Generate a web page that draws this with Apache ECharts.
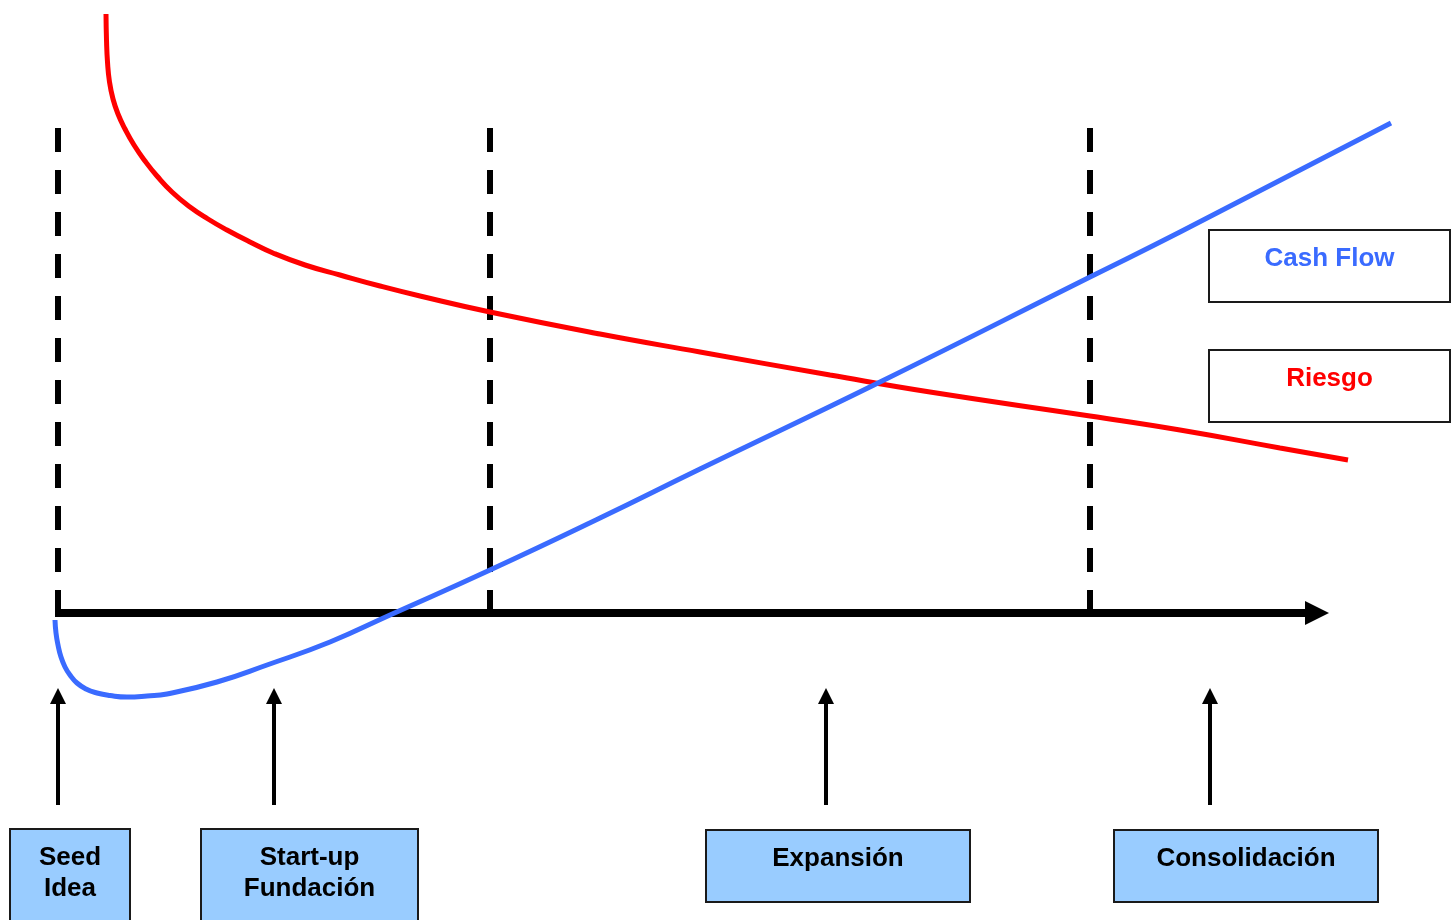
<!DOCTYPE html>
<html>
<head>
<meta charset="utf-8">
<script src="https://cdn.jsdelivr.net/npm/echarts@6/dist/echarts.min.js"></script>
<style>
html,body{margin:0;padding:0;background:#fff;}
#chart{width:1455px;height:920px;}
</style>
</head>
<body>
<div id="chart"></div>
<script>
// ---- Data (time on x, value on y; 0 = horizontal axis, seed line at x=0) ----
const riesgoX = [48, 48.5, 49.5, 51.5, 55, 60, 67, 76, 87, 99, 114, 132, 150, 169, 192, 215, 247, 282, 322, 362, 432, 542, 642, 772, 872, 1032, 1122, 1222, 1290];
const riesgoY = [599, 573, 551, 531, 514, 499, 484, 468, 452, 437, 421, 406, 394, 383, 371, 360, 348, 338, 327, 317, 301, 279, 261, 238, 221, 197, 183, 165, 153];

const cashX = [-3, -2, 0, 3, 7, 12, 19, 28, 39, 52, 69, 89, 109, 159, 209, 272, 332, 432, 542, 642, 820, 1032, 1122, 1333];
const cashY = [-7, -20, -32, -44, -54, -62, -70, -76, -80, -82.5, -84, -83, -81, -69, -52, -29, -2, 43, 95, 144, 230, 336, 381, 490];

const phaseBoundaries = [0, 432, 1032];          // dashed vertical lines
const phaseTop = 485;
const axisEnd = 1259;

const stageNames = ['Seed\nIdea', 'Start-up\nFundación', 'Expansión', 'Consolidación'];
const stageArrowX = [0, 216, 768, 1152];
const arrowBottom = -192, arrowHead = -83;

const legendNames = ['Cash Flow', 'Riesgo'];

// ---- Layout boxes (in axis units) ----
const stageBoxes = [[-48, -216, 72, -312], [143, -216, 360, -312], [648, -217, 912, -289], [1056, -217, 1320, -289]];
const legendBoxes = [[1151, 383, 1392, 311], [1151, 263, 1392, 191]];

const BLUE = '#3a6bff', RED = '#ff0000';
const FONT = 'bold 26px "Liberation Sans", Arial, sans-serif';

function zip(xs, ys) { return xs.map((x, i) => [x, ys[i]]); }

const chart = echarts.init(document.getElementById('chart'), null, {renderer: 'canvas'});

const series = [];

phaseBoundaries.forEach(x => {
  series.push({
    type: 'line', data: [[x, phaseTop], [x, 0]], symbol: 'none', silent: true,
    lineStyle: {color: '#000', width: 6, type: [24, 18]}, z: 2
  });
});

// horizontal axis with arrowhead
series.push({
  type: 'line', data: [[-3, 0], [axisEnd, 0]], symbol: 'none', silent: true,
  lineStyle: {color: '#000', width: 8}, z: 3
});
series.push({
  type: 'scatter', data: [[axisEnd, 0]], symbol: 'triangle', symbolSize: [24, 24], symbolRotate: -90,
  itemStyle: {color: '#000', opacity: 1}, silent: true, z: 3
});

// stage up arrows
stageArrowX.forEach(x => {
  series.push({
    type: 'line', data: [[x, arrowBottom], [x, arrowHead - 4]], symbol: 'none', silent: true,
    lineStyle: {color: '#000', width: 4}, z: 3
  });
});
series.push({
  type: 'scatter', data: stageArrowX.map(x => [x, arrowHead]), symbol: 'triangle', symbolSize: [16, 16],
  itemStyle: {color: '#000', opacity: 1}, silent: true, z: 3
});

// curves
series.push({
  name: 'Riesgo', type: 'line', data: zip(riesgoX, riesgoY), smooth: 0.5, symbol: 'none', silent: true,
  lineStyle: {color: RED, width: 5}, z: 5
});
series.push({
  name: 'Cash Flow', type: 'line', data: zip(cashX, cashY), smooth: 0.5, symbol: 'none', silent: true,
  lineStyle: {color: BLUE, width: 5}, z: 6
});

function boxSeries(boxes, names, fills, textColors) {
  return {
    type: 'custom', silent: true, z: 10, clip: false,
    data: boxes,
    renderItem: function (params, api) {
      const i = params.dataIndex;
      const p0 = api.coord([api.value(0), api.value(1)]);
      const p1 = api.coord([api.value(2), api.value(3)]);
      return {
        type: 'group',
        children: [
          {type: 'rect', shape: {x: p0[0], y: p0[1], width: p1[0] - p0[0], height: p1[1] - p0[1]},
            style: {fill: fills[i], stroke: '#1a1a1a', lineWidth: 2}},
          {type: 'text', x: (p0[0] + p1[0]) / 2, y: p0[1] + 13,
            style: {text: names[i], align: 'center', verticalAlign: 'top', font: FONT, fill: textColors[i], lineHeight: 31}}
        ]
      };
    }
  };
}

series.push(boxSeries(stageBoxes, stageNames, stageNames.map(() => '#99ccff'), stageNames.map(() => '#000')));
series.push(boxSeries(legendBoxes, legendNames, ['#fff', '#fff'], [BLUE, RED]));

chart.setOption({
  animation: false,
  backgroundColor: '#fff',
  grid: {left: 0, right: 0, top: 0, bottom: 0},
  xAxis: {type: 'value', min: -58, max: 1397, show: false},
  yAxis: {type: 'value', min: -307, max: 613, show: false},
  series: series
});
</script>
</body>
</html>
